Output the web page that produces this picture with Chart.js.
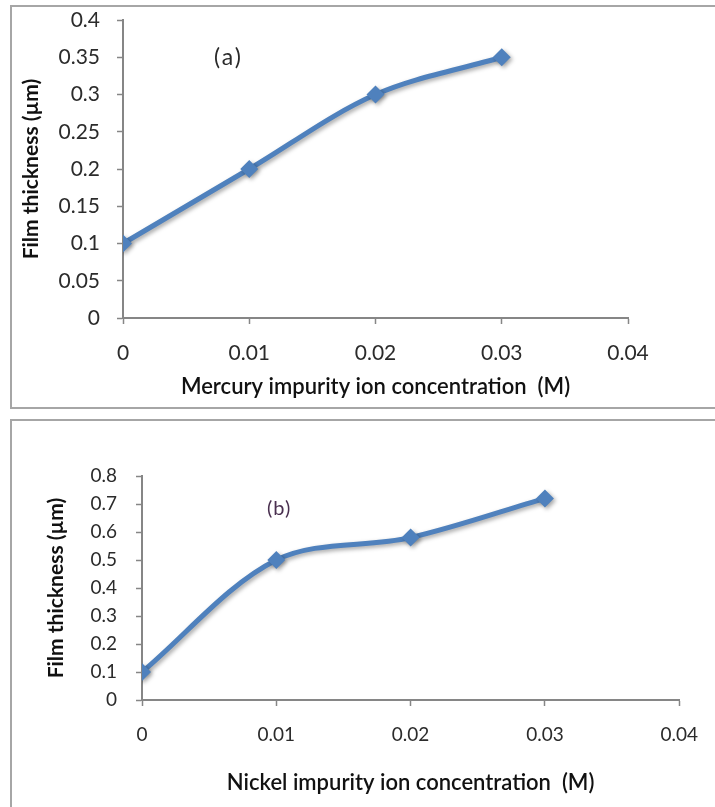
<!DOCTYPE html>
<html>
<head>
<meta charset="utf-8">
<script src="https://cdn.jsdelivr.net/npm/chart.js@4"></script>
<style>
  body { margin: 0; background: #fff; width: 715px; height: 807px; overflow: hidden; position: relative; }
  .frame { position: absolute; border: 2px solid #a6a6a6; background: #fff; }
  #frameA { left: 10px; top: 5px; width: 720px; height: 400px; }
  #frameB { left: 10px; top: 419px; width: 720px; height: 420px; }
  .wrap { position: absolute; left: 0; width: 715px; }
  #wrapA { top: 0; height: 410px; }
  #wrapB { top: 410px; height: 397px; }
  .tag { position: absolute; font-family: Lato, sans-serif; color: #2a2a2a; line-height: 1; }
</style>
</head>
<body>
<div class="frame" id="frameA"></div>
<div class="frame" id="frameB"></div>
<div class="wrap" id="wrapA"><canvas id="chart-a" width="715" height="410"></canvas></div>
<div class="wrap" id="wrapB"><canvas id="chart-b" width="715" height="397"></canvas></div>
<div class="tag" style="left:214px; top:45px; font-size:23px; letter-spacing:2px;">(a)</div>
<div class="tag" style="left:267px; top:497px; font-size:20px; letter-spacing:1px; color:#4a3050;">(b)</div>
<script>
// data
const concentration = [0, 0.01, 0.02, 0.03];
const mercuryThickness = [0.1, 0.2, 0.3, 0.35];
const nickelThickness = [0.1, 0.5, 0.58, 0.72];

const xTicks = [0, 0.01, 0.02, 0.03, 0.04];
const yTicksA = [0, 0.05, 0.1, 0.15, 0.2, 0.25, 0.3, 0.35, 0.4];
const yTicksB = [0, 0.1, 0.2, 0.3, 0.4, 0.5, 0.6, 0.7, 0.8];

const blue = '#4f81bd';
const axisGray = '#868686';
const tickColor = '#2b2b2b';

// soft drop shadow like the excel line
const shadowPlugin = {
    id: 'shadow',
    beforeDatasetsDraw(chart) {
        const ctx = chart.ctx;
        ctx.save();
        ctx.shadowColor = 'rgba(0,0,0,0.35)';
        ctx.shadowBlur = 4;
        ctx.shadowOffsetX = 2;
        ctx.shadowOffsetY = 2;
    },
    afterDatasetsDraw(chart) {
        chart.ctx.restore();
    }
};

function makeChart(canvas, values, yMax, yTicks, xTitle, cfg) {
    return new Chart(canvas.getContext('2d'), {
        type: 'line',
        data: {
            datasets: [{
                data: concentration.map((c, i) => ({ x: c, y: values[i] })),
                borderColor: blue,
                backgroundColor: blue,
                borderWidth: 5,
                tension: 0.33, // close to excel's smoothed line
                pointStyle: 'rectRot',
                pointRadius: 9,
                pointHoverRadius: 9,
                pointBorderWidth: 0
            }]
        },
        options: {
            responsive: false,
            animation: false,
            events: [],
            layout: { padding: { left: 0, right: cfg.padRight, top: cfg.padTop, bottom: 0 } },
            plugins: { legend: { display: false }, tooltip: { enabled: false } },
            scales: {
                x: {
                    type: 'linear',
                    min: 0,
                    max: 0.04,
                    afterBuildTicks: s => { s.ticks = xTicks.map(v => ({ value: v })); },
                    afterFit: s => { s.height = cfg.xHeight; },
                    ticks: {
                        color: tickColor,
                        padding: cfg.xTickPad,
                        maxRotation: 0,
                        autoSkip: false,
                        font: { family: 'Lato', size: cfg.tickSize },
                        callback: v => String(v)
                    },
                    grid: { display: true, drawOnChartArea: false, color: axisGray, tickLength: 6, tickWidth: 1.5 },
                    border: { color: axisGray, width: 2 },
                    title: {
                        display: true,
                        text: xTitle,
                        color: '#111',
                        font: { family: 'Lato', size: 22, weight: '600' },
                        padding: { top: 0, bottom: cfg.xTitlePad }
                    }
                },
                y: {
                    type: 'linear',
                    min: 0,
                    max: yMax,
                    afterBuildTicks: s => { s.ticks = yTicks.map(v => ({ value: v })); },
                    afterFit: s => {
                        s.width = cfg.yWidth;
                        s.paddingTop = 0;
                        s.paddingBottom = 0;
                    },
                    ticks: {
                        color: tickColor,
                        padding: cfg.yTickPad,
                        autoSkip: false,
                        font: { family: 'Lato', size: cfg.tickSize },
                        callback: v => String(v)
                    },
                    grid: { display: true, drawOnChartArea: false, color: axisGray, tickLength: 6, tickWidth: 1.5 },
                    border: { color: axisGray, width: 2 },
                    title: {
                        display: true,
                        text: 'Film thickness (µm)',
                        color: '#111',
                        font: { family: 'Lato', size: 21, weight: 'bold' },
                        padding: { top: cfg.yTitlePad, bottom: 0 }
                    }
                }
            }
        },
        plugins: [shadowPlugin]
    });
}

makeChart(document.querySelector('#chart-a'), mercuryThickness, 0.4, yTicksA,
    'Mercury impurity ion concentration  (M)',
    { padRight: 87, padTop: 20, xHeight: 92, yWidth: 123, xTickPad: 17, yTickPad: 17, xTitlePad: 10, yTitlePad: 19, tickSize: 21 });

makeChart(document.querySelector('#chart-b'), nickelThickness, 0.8, yTicksB,
    'Nickel impurity ion concentration  (M)',
    { padRight: 29, padTop: 66, xHeight: 107, yWidth: 142, xTickPad: 17, yTickPad: 19, xTitlePad: 11, yTitlePad: 44, tickSize: 19 });
</script>
</body>
</html>
